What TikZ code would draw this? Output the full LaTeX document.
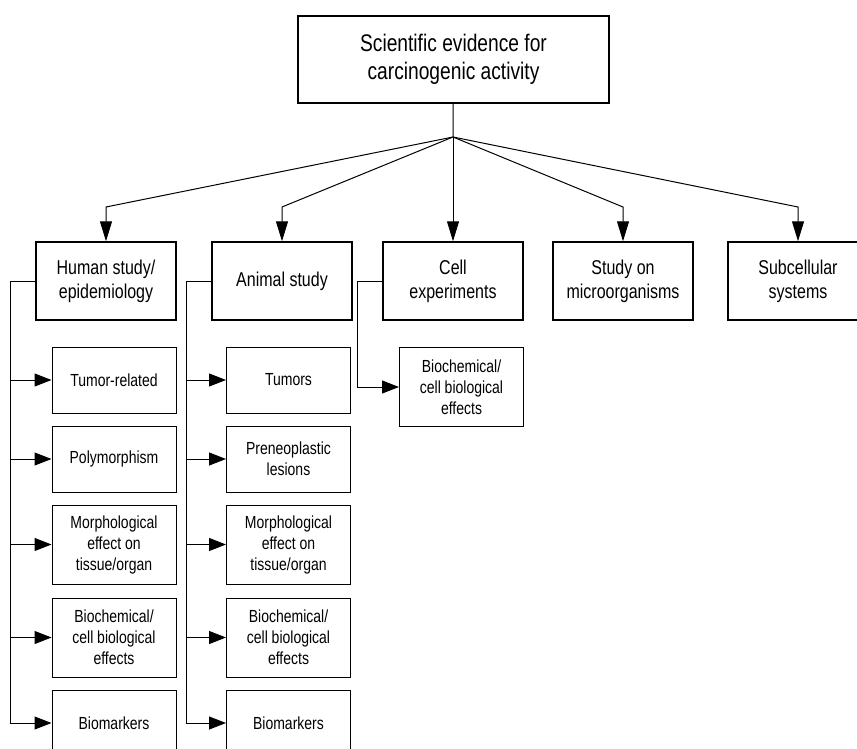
\documentclass[tikz,border=0pt]{standalone}
\usepackage{fontspec}
\setmainfont{Liberation Sans}[FakeStretch=0.8]
\usepackage{tikz}
\usetikzlibrary{arrows.meta,positioning}

\tikzset{
  mainbox/.style={draw,line width=2.4pt,minimum width=311pt,minimum height=87pt,
    align=center,font=\fontsize{24}{28}\selectfont},
  studybox/.style={draw,line width=1.5pt,minimum width=140pt,minimum height=78pt,
    align=center,font=\fontsize{20}{24}\selectfont},
  itembox/.style={draw,line width=1pt,minimum width=124pt,minimum height=66pt,
    align=center,font=\fontsize{17.5}{21}\selectfont},
  tallbox/.style={itembox,minimum height=79pt},
  link/.style={line width=1pt,-{Triangle[length=20pt,width=12pt]}},
  branch/.style={line width=1pt,-{Triangle[length=17pt,width=13pt]}}
}

\begin{document}
\begin{tikzpicture}[x=1pt,y=-1pt]
  \useasboundingbox (0,0) rectangle (857,749);

  \node[mainbox] (evidence) at (453.5,59.5) {Scientific evidence for\\carcinogenic activity};

  \node[studybox] (human) at (106,281) {Human study/\\epidemiology};
  \node[studybox] (animal) at (282,281) {Animal study};
  \node[studybox] (cell) at (453,281) {Cell\\experiments};
  \node[studybox] (micro) at (623,281) {Study on\\microorganisms};
  \node[studybox] (subcell) at (798,281) {Subcellular\\systems};

  % human study
  \node[itembox] (h1) at (114,380) {Tumor-related};
  \node[itembox] (h2) at (114,459) {Polymorphism};
  \node[tallbox] (h3) at (114,544.5) {Morphological\\effect on\\tissue/organ};
  \node[tallbox] (h4) at (114,637.5) {Biochemical/\\cell biological\\effects};
  \node[itembox] (h5) at (114,723) {Biomarkers};

  % animal study
  \node[itembox] (a1) at (288.5,380) {Tumors};
  \node[itembox] (a2) at (288.5,459) {Preneoplastic\\lesions};
  \node[tallbox] (a3) at (288.5,544.5) {Morphological\\effect on\\tissue/organ};
  \node[tallbox] (a4) at (288.5,637.5) {Biochemical/\\cell biological\\effects};
  \node[itembox] (a5) at (288.5,723) {Biomarkers};

  % cell experiments
  \node[tallbox] (c1) at (461.5,387) {Biochemical/\\cell biological\\effects};

  \coordinate (hub) at (453,137);
  \coordinate (human-in) at (106,207);
  \coordinate (animal-in) at (282,207);
  \coordinate (micro-in) at (623,207);
  \coordinate (subcell-in) at (798,207);

  \draw[line width=1pt] (evidence) -- (hub);
  \draw[link] (hub) -- (human-in) -- (human);
  \draw[link] (hub) -- (animal-in) -- (animal);
  \draw[link] (hub) -- (cell);
  \draw[link] (hub) -- (micro-in) -- (micro);
  \draw[link] (hub) -- (subcell-in) -- (subcell);

  \coordinate (hbus) at (10,281);
  \coordinate (abus) at (186,281);
  \coordinate (cbus) at (357,281);

  \draw[branch] (human.west) -- (hbus) |- (h1);
  \draw[branch] (human.west) -- (hbus) |- (h2);
  \draw[branch] (human.west) -- (hbus) |- (h3);
  \draw[branch] (human.west) -- (hbus) |- (h4);
  \draw[branch] (human.west) -- (hbus) |- (h5);

  \draw[branch] (animal.west) -- (abus) |- (a1);
  \draw[branch] (animal.west) -- (abus) |- (a2);
  \draw[branch] (animal.west) -- (abus) |- (a3);
  \draw[branch] (animal.west) -- (abus) |- (a4);
  \draw[branch] (animal.west) -- (abus) |- (a5);

  \draw[branch] (cell.west) -- (cbus) |- (c1);
\end{tikzpicture}
\end{document}
